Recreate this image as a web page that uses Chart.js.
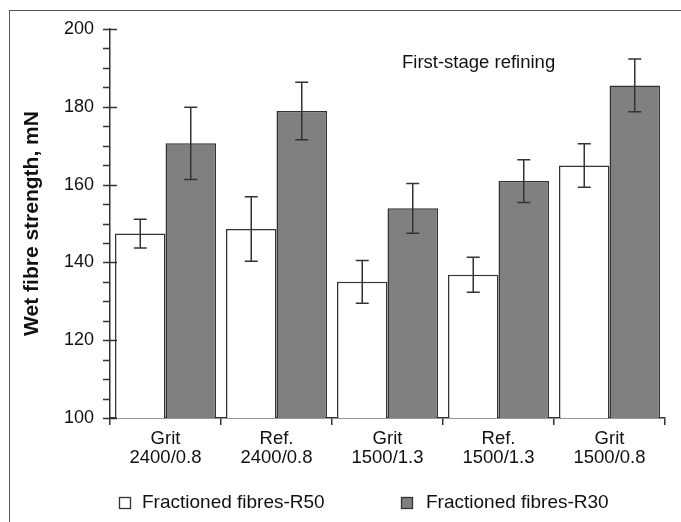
<!DOCTYPE html>
<html>
<head>
<meta charset="utf-8">
<script src="https://cdn.jsdelivr.net/npm/chart.js@4.4.1/dist/chart.umd.min.js"></script>
<style>
  html, body { margin: 0; padding: 0; background: #fff; }
  #wrap { position: relative; width: 681px; height: 522px; }
  #frame { position: absolute; left: 9px; top: 10px; right: 0; bottom: 0;
           border-left: 1.5px solid #555; border-top: 1.5px solid #555; pointer-events: none; }
</style>
</head>
<body>
<div id="wrap">
  <canvas id="chart" width="681" height="522"></canvas>
  <div id="frame"></div>
</div>
<script>
const categories = [['Grit', '2400/0.8'], ['Ref.', '2400/0.8'], ['Grit', '1500/1.3'], ['Ref.', '1500/1.3'], ['Grit', '1500/0.8']];
const r50Values = [147.4, 148.6, 135.0, 136.8, 164.9];
const r50Errors = [3.7, 8.3, 5.5, 4.5, 5.6];
const r30Values = [170.6, 178.9, 153.9, 160.9, 185.5];
const r30Errors = [9.3, 7.4, 6.4, 5.5, 6.8];
const yMin = 100, yMax = 200, yMajorStep = 20, yMinorStep = 5;

const FONT = "'Liberation Sans', Arial, Helvetica, sans-serif";
const INK = '#333';

// error bars from the errors stored on each dataset
const errorBars = {
    id: 'errorBars',
    afterDatasetsDraw(chart) {
        const ctx = chart.ctx;
        const y = chart.scales.y;
        ctx.save();
        ctx.strokeStyle = INK;
        ctx.lineWidth = 1.5;
        chart.data.datasets.forEach((ds, i) => {
            chart.getDatasetMeta(i).data.forEach((bar, j) => {
                const v = ds.data[j], e = ds.errors[j];
                const top = y.getPixelForValue(v + e);
                const bot = y.getPixelForValue(v - e);
                ctx.beginPath();
                ctx.moveTo(bar.x, top); ctx.lineTo(bar.x, bot);
                ctx.moveTo(bar.x - 6.5, top); ctx.lineTo(bar.x + 6.5, top);
                ctx.moveTo(bar.x - 6.5, bot); ctx.lineTo(bar.x + 6.5, bot);
                ctx.stroke();
            });
        });
        ctx.restore();
    }
};

// major ticks cross the axis, minor ticks sit outside
const yTickMarks = {
    id: 'yTickMarks',
    afterDraw(chart) {
        const ctx = chart.ctx;
        const y = chart.scales.y;
        const x0 = chart.chartArea.left;
        ctx.save();
        ctx.strokeStyle = INK;
        ctx.lineWidth = 1.5;
        for (let v = yMin; v <= yMax; v += yMinorStep) {
            const py = Math.round(y.getPixelForValue(v)) + 0.5;
            const major = (v - yMin) % yMajorStep === 0;
            ctx.beginPath();
            ctx.moveTo(x0 - 7, py);
            ctx.lineTo(major ? x0 + 7 : x0, py);
            ctx.stroke();
        }
        ctx.restore();
    }
};

const notesAndLegend = {
    id: 'notesAndLegend',
    afterDraw(chart) {
        const ctx = chart.ctx;
        ctx.save();
        ctx.fillStyle = '#111';
        ctx.textBaseline = 'middle';
        ctx.font = '18.5px ' + FONT;
        ctx.fillText('First-stage refining', 402, 63);

        ctx.font = '19px ' + FONT;
        const boxes = [119, 401];
        const texts = [142, 426];
        chart.data.datasets.forEach((ds, i) => {
            const x = boxes[i];
            ctx.fillStyle = ds.backgroundColor;
            ctx.fillRect(x, 497, 11, 11);
            ctx.strokeStyle = INK;
            ctx.lineWidth = 1.3;
            ctx.strokeRect(x + 0.5, 497.5, 11, 11);
            ctx.fillStyle = '#111';
            ctx.fillText(ds.label, texts[i], 503);
        });
        ctx.restore();
    }
};

new Chart(document.getElementById('chart'), {
    type: 'bar',
    data: {
        labels: categories,
        datasets: [
            {
                label: 'Fractioned fibres-R50',
                data: r50Values,
                errors: r50Errors,
                backgroundColor: '#ffffff',
                borderColor: INK,
                borderWidth: 1.5,
                borderSkipped: false
            },
            {
                label: 'Fractioned fibres-R30',
                data: r30Values,
                errors: r30Errors,
                backgroundColor: '#808080',
                borderColor: INK,
                borderWidth: 1.5,
                borderSkipped: false
            }
        ]
    },
    options: {
        responsive: false,
        animation: false,
        layout: { padding: { left: 14, right: 16, top: 29, bottom: 0 } },
        datasets: { bar: { categoryPercentage: 0.91, barPercentage: 1 } },
        scales: {
            x: {
                offset: true,
                grid: { display: true, drawOnChartArea: false, offset: true, tickLength: 7, color: INK, lineWidth: 1.5 },
                border: { display: true, color: INK, width: 1.5 },
                ticks: { color: '#111', font: { family: FONT, size: 18.5, lineHeight: 1.0 }, padding: 5, maxRotation: 0 },
                afterFit(scale) { scale.height = 104; }
            },
            y: {
                min: yMin,
                max: yMax,
                ticks: { stepSize: yMajorStep, color: '#111', font: { family: FONT, size: 18 }, padding: 16 },
                grid: { display: true, drawOnChartArea: false, drawTicks: false },
                border: { display: true, color: INK, width: 1.5 },
                title: {
                    display: true,
                    text: 'Wet fibre strength, mN',
                    color: '#111',
                    font: { family: FONT, size: 21, weight: 'bold', lineHeight: 1.2 },
                    padding: { top: 6, bottom: 0 }
                },
                afterFit(scale) { scale.width = 96; }
            }
        },
        plugins: {
            legend: { display: false },
            tooltip: { enabled: false }
        }
    },
    plugins: [errorBars, yTickMarks, notesAndLegend]
});
</script>
</body>
</html>
